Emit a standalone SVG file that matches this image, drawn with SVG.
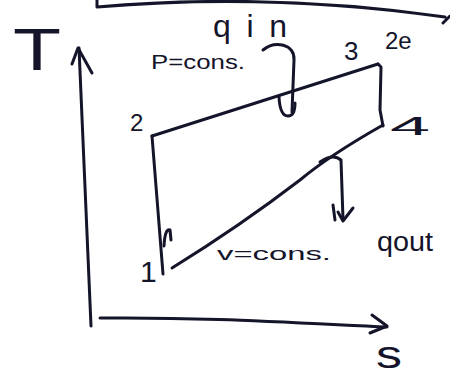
<svg xmlns="http://www.w3.org/2000/svg" width="450" height="379" viewBox="0 0 450 379">
<style>
.ink{fill:none;stroke:#14142a;stroke-width:3;stroke-linecap:round;stroke-linejoin:round}
.lbl{font-family:"Liberation Sans","DejaVu Sans",sans-serif;fill:#14142a}
</style>
<rect width="450" height="379" fill="#fff"/>
<!-- top border stroke -->
<path class="ink" d="M97,0 L97,7 Q270,-8 445,17 M443,23 L450,16"/>
<!-- axes -->
<g id="axes">
<path class="ink" d="M79,48 L91,326"/>
<path class="ink" d="M72,64 L78,48 L92,73"/>
<path class="ink" d="M100,318 C200,317 280,322 387,327"/>
<path class="ink" d="M372,315 L387,326 L370,333"/>
<text class="lbl" x="0" y="0" font-size="40" textLength="48" lengthAdjust="spacingAndGlyphs" transform="translate(13,70) scale(1,1.5)">T</text>
<text class="lbl" x="376" y="368" font-size="38" textLength="26" lengthAdjust="spacingAndGlyphs">s</text>
</g>
<!-- state points -->
<g id="n1"><text class="lbl" x="140" y="282" font-size="30">1</text></g>
<g id="n2"><text class="lbl" x="130" y="131" font-size="24">2</text></g>
<g id="n3"><text class="lbl" x="344" y="60" font-size="26">3</text><text class="lbl" x="385" y="49" font-size="24">2e</text></g>
<g id="n4"><text class="lbl" x="390" y="135" font-size="26" textLength="40" lengthAdjust="spacingAndGlyphs">4</text></g>
<!-- process labels -->
<g id="qin"><text class="lbl" x="213" y="37" font-size="32" textLength="74" lengthAdjust="spacing">qin</text></g>
<g id="pcons"><text class="lbl" x="151" y="69" font-size="20" textLength="94" lengthAdjust="spacingAndGlyphs">P=cons.</text></g>
<g id="vcons"><text class="lbl" x="217" y="260" font-size="19" textLength="114" lengthAdjust="spacingAndGlyphs">v=cons.</text></g>
<g id="qout"><text class="lbl" x="377" y="251" font-size="27" textLength="56" lengthAdjust="spacingAndGlyphs">qout</text></g>
<!-- connectors -->
<g id="connectors">
<path class="ink" d="M152,136 L378,64"/>
<path class="ink" d="M378,64 L381,67 L380,110 L383,126"/>
<path class="ink" d="M383,125 Q330,155 300,180 Q240,226 172,268"/>
<path class="ink" d="M152,136 L163,274"/>
<path class="ink" d="M164,246 Q165,228 170,230 L171,240"/>
<path class="ink" d="M263,50 C275,40 295,44 294,60 L292,112"/>
<path class="ink" d="M279,97 Q280,116 288,116 Q295,116 295,103"/>
<path class="ink" d="M320,162 Q333,153 341,160 L343,219"/>
<path class="ink" d="M333,205 L335,220 M338,212 L343,221 L353,208"/>
</g>
</svg>
